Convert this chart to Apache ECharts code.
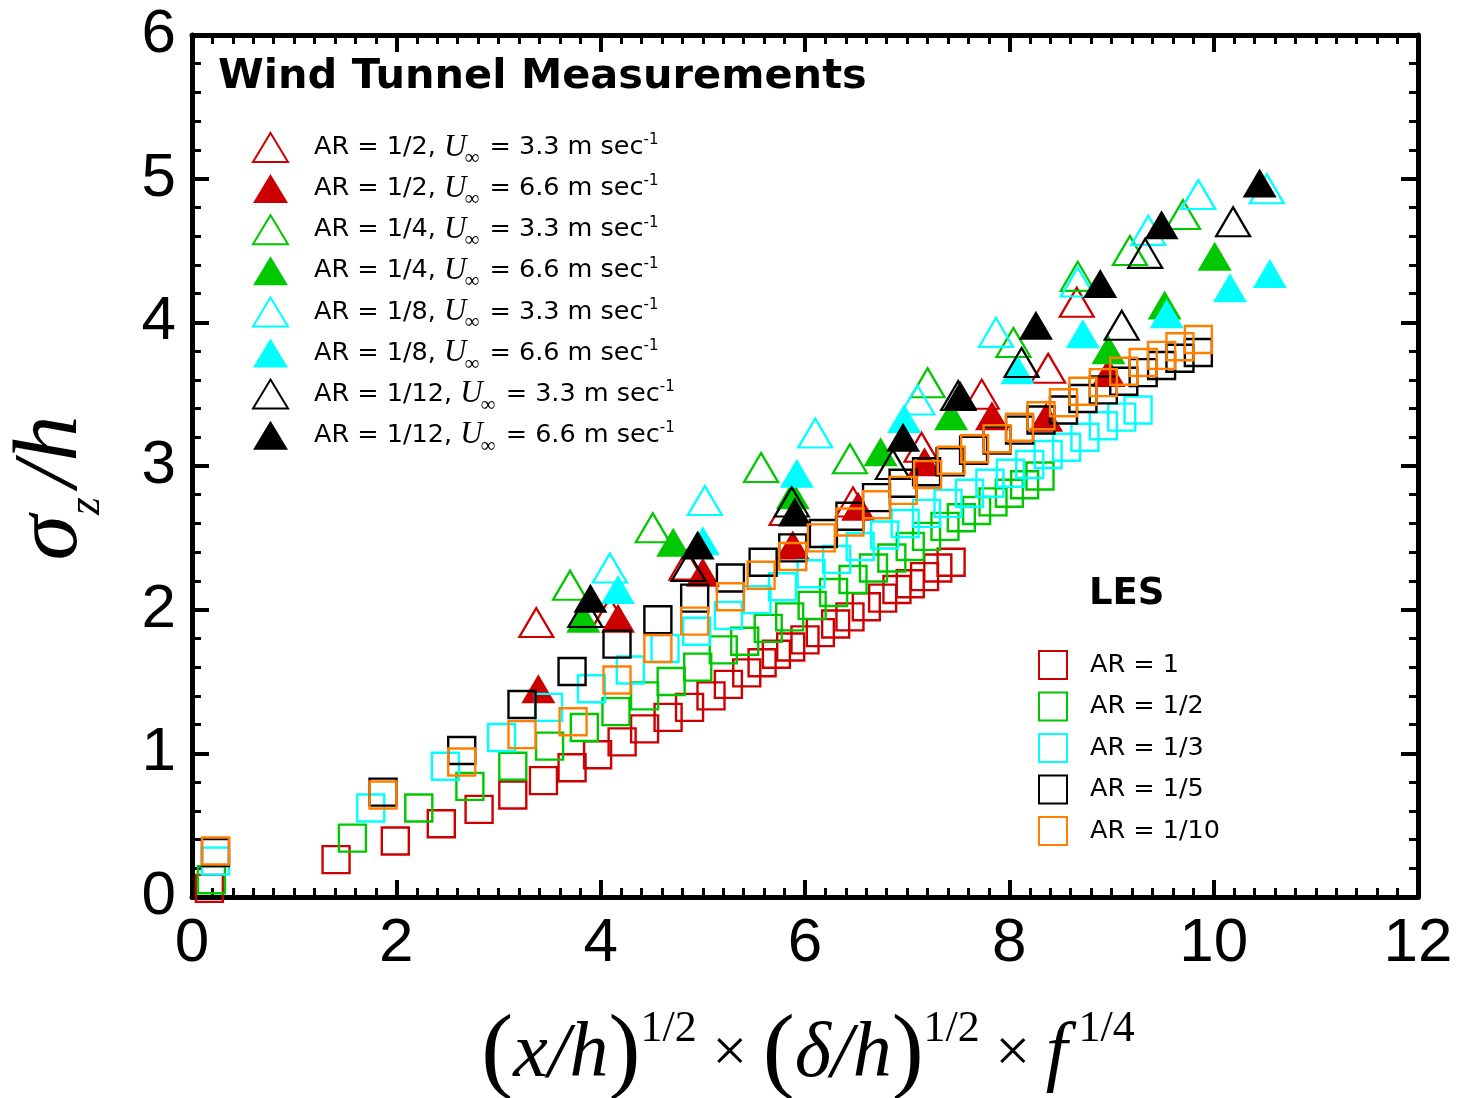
<!DOCTYPE html>
<html>
<head>
<meta charset="utf-8">
<script src="https://cdn.jsdelivr.net/npm/echarts@6/dist/echarts.min.js"></script>
<style>
html,body{margin:0;padding:0;background:#fff;}
#chart{width:1464px;height:1098px;}
</style>
</head>
<body>
<div id="chart"></div>
<script>
// ---- Axis ticks ----
const xTicks = [0, 2, 4, 6, 8, 10, 12];
const yTicks = [0, 1, 2, 3, 4, 5, 6];

// ---- Wind tunnel measurements (triangles) ----
const wtNames = [
  'AR = 1/2, U∞ = 3.3 m sec-1',
  'AR = 1/2, U∞ = 6.6 m sec-1',
  'AR = 1/4, U∞ = 3.3 m sec-1',
  'AR = 1/4, U∞ = 6.6 m sec-1',
  'AR = 1/8, U∞ = 3.3 m sec-1',
  'AR = 1/8, U∞ = 6.6 m sec-1',
  'AR = 1/12, U∞ = 3.3 m sec-1',
  'AR = 1/12, U∞ = 6.6 m sec-1'
];
const wtColors = ['#cc0000','#cc0000','#00c800','#00c800','#00ffff','#00ffff','#000000','#000000'];
const wtFilled = [false,true,false,true,false,true,false,true];

const wtAR2_U33 = [[3.37,1.91],[4.09,1.98],[4.84,2.31],[5.82,2.69],[6.47,2.75],[7.14,3.13],[7.73,3.50],[8.38,3.68],[8.66,4.14]];
const wtAR2_U66 = [[3.39,1.45],[4.17,1.94],[5.00,2.26],[5.88,2.45],[6.52,2.72],[7.17,3.03],[7.83,3.35],[8.36,3.34],[8.97,3.65]];
const wtAR4_U33 = [[3.70,2.17],[4.51,2.57],[5.57,2.99],[6.44,3.05],[7.20,3.58],[8.04,3.86],[8.67,4.32],[9.18,4.50],[9.70,4.75]];
const wtAR4_U66 = [[3.83,1.94],[4.71,2.47],[5.88,2.80],[6.74,3.10],[7.43,3.35],[8.97,3.81],[9.52,4.12],[10.01,4.46]];
const wtAR8_U33 = [[4.09,2.29],[5.02,2.76],[6.10,3.23],[7.10,3.46],[7.87,3.93],[8.67,4.28],[9.36,4.64],[9.85,4.89],[10.52,4.93]];
const wtAR8_U66 = [[4.17,2.14],[5.00,2.48],[5.92,2.95],[6.97,3.33],[8.08,3.67],[8.72,3.92],[9.54,4.06],[10.16,4.24],[10.55,4.34]];
const wtAR12_U33 = [[3.85,1.98],[4.86,2.30],[5.87,2.75],[6.86,3.01],[7.50,3.49],[8.12,3.72],[9.10,3.98],[9.33,4.48],[10.19,4.70]];
const wtAR12_U66 = [[3.90,2.08],[4.95,2.45],[5.90,2.68],[6.96,3.20],[7.52,3.49],[8.26,3.98],[8.89,4.27],[9.49,4.68],[10.45,4.97]];
const wtData = [wtAR2_U33, wtAR2_U66, wtAR4_U33, wtAR4_U66, wtAR8_U33, wtAR8_U66, wtAR12_U33, wtAR12_U66];

// ---- LES (open squares) ----
const lesNames = ['AR = 1', 'AR = 1/2', 'AR = 1/3', 'AR = 1/5', 'AR = 1/10'];
const lesColors = ['#cc0000', '#00c800', '#00ffff', '#000000', '#ff8000'];

const lesAR1 = [[0.17,0.06],[1.41,0.26],[1.99,0.39],[2.44,0.51],[2.81,0.61],[3.14,0.71],[3.44,0.81],[3.72,0.90],[3.97,0.99],[4.21,1.08],[4.43,1.17],[4.66,1.25],[4.87,1.32],[5.08,1.40],[5.25,1.48],[5.43,1.56],[5.58,1.63],[5.72,1.69],[5.86,1.74],[6.00,1.79],[6.15,1.84],[6.30,1.90],[6.44,1.95],[6.60,2.02],[6.76,2.08],[6.90,2.14],[7.03,2.18],[7.17,2.23],[7.30,2.29],[7.43,2.33]];
const lesAR1_2 = [[0.19,0.12],[1.57,0.41],[2.22,0.62],[2.72,0.77],[3.14,0.91],[3.50,1.05],[3.84,1.18],[4.15,1.29],[4.43,1.40],[4.69,1.50],[4.95,1.60],[5.20,1.72],[5.41,1.78],[5.64,1.87],[5.85,1.95],[6.07,2.03],[6.28,2.12],[6.47,2.21],[6.67,2.29],[6.85,2.36],[7.03,2.44],[7.19,2.51],[7.37,2.58],[7.53,2.64],[7.68,2.69],[7.84,2.75],[8.00,2.81],[8.15,2.87],[8.30,2.93]];
const lesAR1_3 = [[0.23,0.25],[1.75,0.62],[2.48,0.91],[3.03,1.11],[3.49,1.32],[3.91,1.45],[4.29,1.58],[4.63,1.73],[4.94,1.85],[5.25,1.96],[5.53,2.07],[5.78,2.16],[6.06,2.25],[6.31,2.35],[6.54,2.44],[6.78,2.52],[6.98,2.60],[7.19,2.67],[7.40,2.74],[7.61,2.81],[7.81,2.88],[8.01,2.95],[8.20,3.01],[8.38,3.08],[8.56,3.13],[8.74,3.20],[8.92,3.28],[9.10,3.34],[9.26,3.39]];
const lesAR1_5 = [[0.23,0.31],[1.87,0.73],[2.64,1.02],[3.23,1.34],[3.72,1.57],[4.16,1.76],[4.56,1.93],[4.92,2.08],[5.27,2.22],[5.59,2.33],[5.88,2.43],[6.18,2.53],[6.44,2.65],[6.70,2.78],[6.96,2.88],[7.19,2.96],[7.42,3.03],[7.65,3.11],[7.88,3.18],[8.10,3.25],[8.31,3.32],[8.53,3.39],[8.72,3.47],[8.92,3.53],[9.12,3.59],[9.31,3.65],[9.49,3.70],[9.67,3.75],[9.85,3.79]];
const lesAR1_10 = [[0.23,0.32],[1.87,0.71],[2.64,0.94],[3.23,1.13],[3.73,1.22],[4.16,1.51],[4.56,1.73],[4.92,1.92],[5.27,2.09],[5.57,2.24],[5.88,2.37],[6.16,2.50],[6.44,2.61],[6.70,2.73],[6.96,2.83],[7.20,2.94],[7.43,3.04],[7.66,3.12],[7.88,3.19],[8.10,3.27],[8.31,3.35],[8.53,3.44],[8.72,3.52],[8.92,3.58],[9.12,3.66],[9.31,3.72],[9.49,3.77],[9.67,3.83],[9.85,3.88]];
const lesData = [lesAR1, lesAR1_2, lesAR1_3, lesAR1_5, lesAR1_10];

// ---- build ----
const chart = echarts.init(document.getElementById('chart'), null, {renderer: 'canvas'});

const series = [];
wtData.forEach((d, i) => {
  series.push({
    name: wtNames[i],
    type: 'scatter',
    data: d,
    symbol: 'triangle',
    symbolSize: [34, 29],
    itemStyle: wtFilled[i]
      ? {color: wtColors[i], borderWidth: 0, opacity: 1}
      : {color: 'rgba(255,255,255,0)', borderColor: wtColors[i], borderWidth: 2.2, opacity: 1},
    emphasis: {disabled: true}
  });
});
lesData.forEach((d, i) => {
  series.push({
    name: lesNames[i],
    type: 'scatter',
    data: d,
    symbol: 'rect',
    symbolSize: 27,
    itemStyle: {color: 'rgba(255,255,255,0)', borderColor: lesColors[i], borderWidth: 2.4, opacity: 1},
    emphasis: {disabled: true}
  });
});

const axisCommonX = {
  type: 'value', min: xTicks[0], max: xTicks[xTicks.length - 1], interval: 2,
  splitLine: {show: false},
  axisLine: {show: true, onZero: false, lineStyle: {color: '#000', width: 5}},
  axisTick: {show: true, inside: true, length: 17, lineStyle: {color: '#000', width: 4}},
  minorTick: {show: true, splitNumber: 10, length: 9, lineStyle: {color: '#000', width: 3}}
};
const axisCommonY = {
  type: 'value', min: yTicks[0], max: yTicks[yTicks.length - 1], interval: 1,
  splitLine: {show: false},
  axisLine: {show: true, onZero: false, lineStyle: {color: '#000', width: 5}},
  axisTick: {show: true, inside: true, length: 17, lineStyle: {color: '#000', width: 4}},
  minorTick: {show: true, splitNumber: 5, length: 9, lineStyle: {color: '#000', width: 3}}
};

const labelFont = {fontFamily: 'Liberation Sans', fontSize: 62, color: '#000'};
const legendFont = 'DejaVu Sans';

function wtFormatter(name) {
  const m = name.match(/^(AR = [^,]+, )U∞( = [\d.]+ m sec)-1$/);
  if (!m) return name;
  return '{g| }{t|' + m[1] + '}{u|U}{sub|∞}{t|' + m[2] + '}{sup|-1}';
}
const legendRich = {
  g: {width: 21, fontSize: 10, lineHeight: 29},
  t: {fontFamily: legendFont, fontSize: 25.5, color: '#000', lineHeight: 29},
  u: {fontFamily: 'Liberation Serif', fontStyle: 'italic', fontSize: 31, color: '#000', lineHeight: 29},
  sub: {fontFamily: 'Liberation Serif', fontSize: 21, color: '#000', lineHeight: 29, padding: [11, 2, -11, -2]},
  sup: {fontFamily: legendFont, fontSize: 15, color: '#000', lineHeight: 14, verticalAlign: 'top'}
};

const option = {
  backgroundColor: '#fff',
  animation: false,
  grid: {left: 192, right: 46, top: 35, bottom: 201, containLabel: false},
  xAxis: [
    Object.assign({}, axisCommonX, {
      position: 'bottom',
      axisLabel: Object.assign({show: true, margin: 16, formatter: v => xTicks.includes(v) ? String(v) : ''}, labelFont)
    }),
    Object.assign({}, axisCommonX, {position: 'top', axisLabel: {show: false}})
  ],
  yAxis: [
    Object.assign({}, axisCommonY, {
      position: 'left',
      axisLabel: Object.assign({show: true, margin: 16, formatter: v => yTicks.includes(v) ? String(v) : ''}, labelFont)
    }),
    Object.assign({}, axisCommonY, {position: 'right', axisLabel: {show: false}})
  ],
  legend: [
    {
      data: wtNames,
      orient: 'vertical',
      left: 252, top: 132,
      padding: 0,
      itemWidth: 35, itemHeight: 29, itemGap: 4.1,
      selectedMode: false,
      formatter: wtFormatter,
      textStyle: {rich: legendRich, lineHeight: 29}
    },
    {
      data: lesNames,
      orient: 'vertical',
      left: 1038, top: 650,
      padding: 0,
      itemWidth: 28, itemHeight: 28, itemGap: 11.5,
      selectedMode: false,
      formatter: n => '{g| }{t|' + n + '}',
      textStyle: {rich: {
        g: {width: 18, fontSize: 10, lineHeight: 28},
        t: {fontFamily: legendFont, fontSize: 25.5, color: '#000', lineHeight: 28}
      }}
    }
  ],
  graphic: [
    {
      type: 'text', left: 218, top: 56, silent: true,
      style: {text: 'Wind Tunnel Measurements', fontFamily: 'DejaVu Sans', fontWeight: 'bold', fontSize: 41.5, fill: '#000'}
    },
    {
      type: 'text', left: 1089, top: 576, silent: true,
      style: {text: 'LES', fontFamily: 'DejaVu Sans', fontWeight: 'bold', fontSize: 37, fill: '#000'}
    },
    {
      type: 'text', x: 52, y: 488, rotation: Math.PI / 2, silent: true,
      style: {
        text: '{s|σ}{z|z}{h|/h}',
        align: 'center', verticalAlign: 'middle',
        rich: {
          s: {fontFamily: 'Liberation Serif', fontStyle: 'italic', fontSize: 92, fill: '#000'},
          z: {fontFamily: 'Liberation Serif', fontStyle: 'italic', fontSize: 46, fill: '#000', verticalAlign: 'bottom', padding: [0, 10, -12, 0]},
          h: {fontFamily: 'Liberation Serif', fontStyle: 'italic', fontSize: 92, fill: '#000'}
        }
      }
    },
    {
      type: 'text', x: 808, y: 1055, silent: true,
      style: {
        text: '{p|(}{i|x/h}{p|)}{u|1/2}{m| × }{p|(}{i|δ/h}{p|)}{u|1/2}{m| × }{i|f}{u| 1/4}',
        align: 'center', verticalAlign: 'middle',
        rich: {
          p: {fontFamily: 'Liberation Serif', fontSize: 96, fill: '#000'},
          i: {fontFamily: 'Liberation Serif', fontStyle: 'italic', fontSize: 78, fill: '#000'},
          m: {fontFamily: 'Liberation Serif', fontSize: 62, fill: '#000'},
          u: {fontFamily: 'Liberation Serif', fontSize: 44, fill: '#000', verticalAlign: 'top', padding: [0, 0, 40, 0]}
        }
      }
    }
  ],
  series: series
};
chart.setOption(option);
</script>
</body>
</html>
